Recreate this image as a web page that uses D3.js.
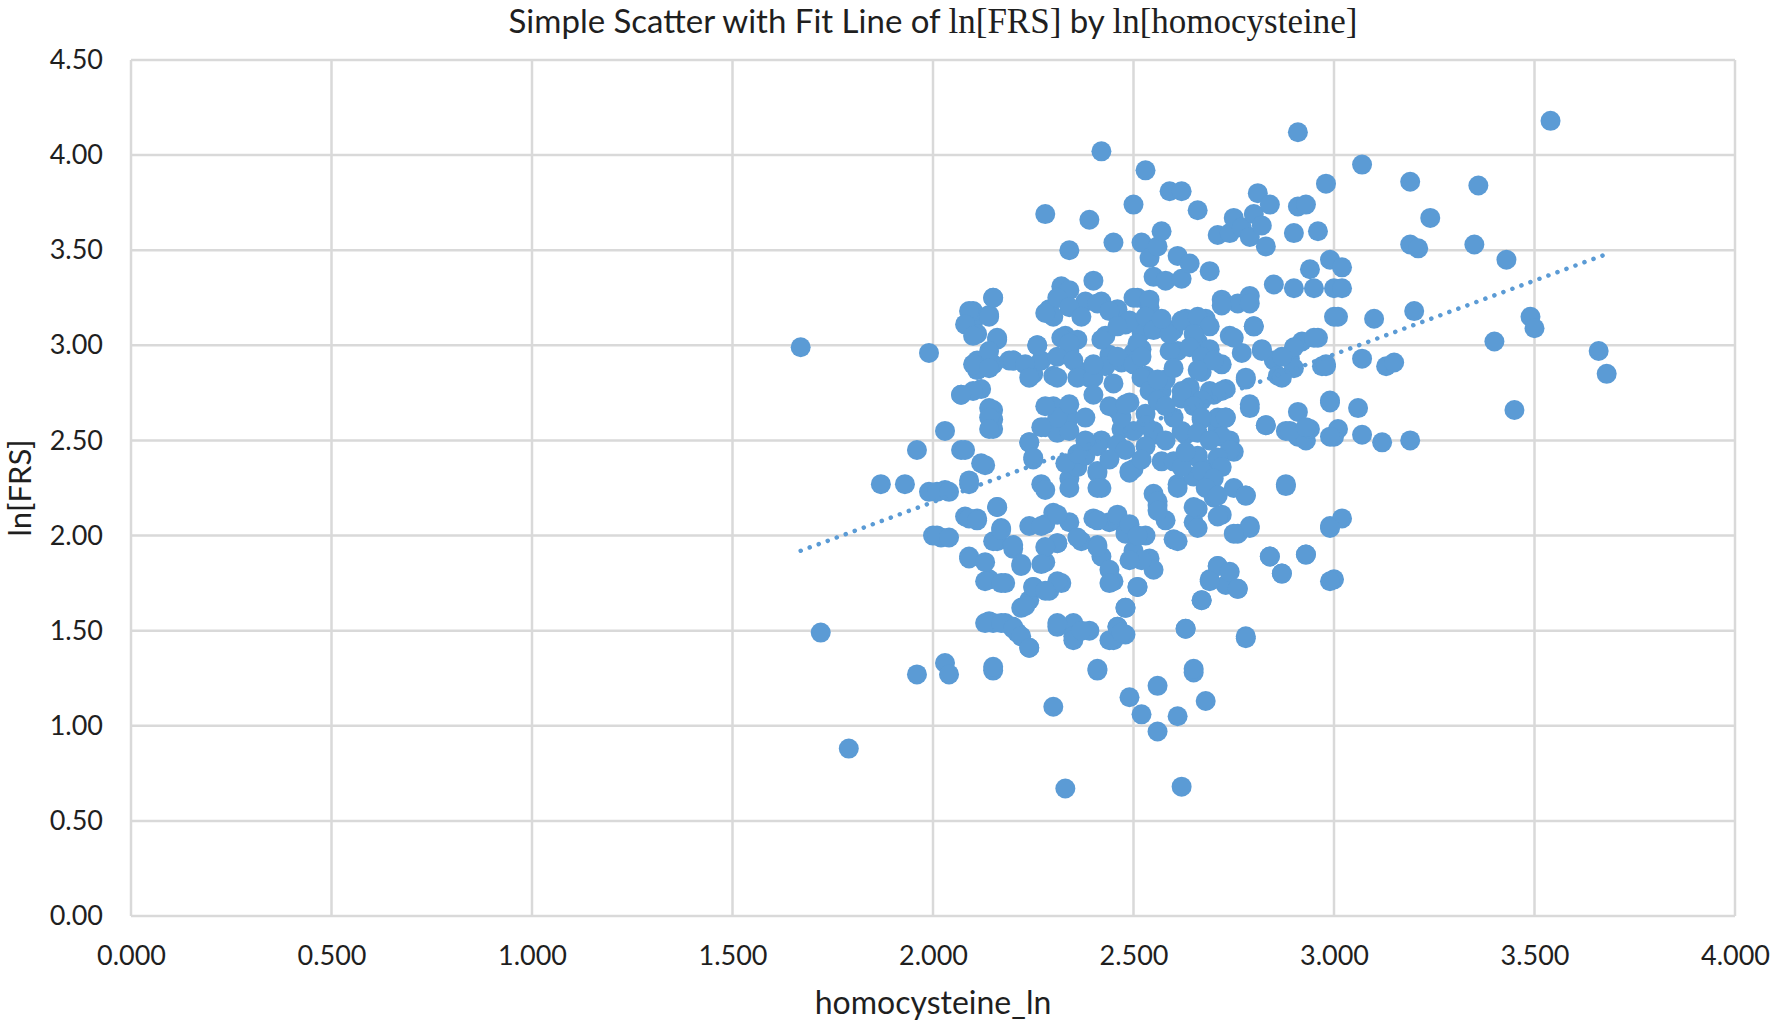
<!DOCTYPE html>
<html>
<head>
<meta charset="utf-8">
<script src="https://cdn.jsdelivr.net/npm/d3@7"></script>
<style>
  body { margin: 0; background: #fff; }
  svg text { font-family: Lato, "Open Sans", sans-serif; fill: #1f1f1f; }
</style>
</head>
<body>
<svg id="chart" width="1776" height="1024"></svg>
<script>
// tick values
const xTicks = [0, 0.5, 1, 1.5, 2, 2.5, 3, 3.5, 4];
const yTicks = [0, 0.5, 1, 1.5, 2, 2.5, 3, 3.5, 4, 4.5];

// linear fit end points [homocysteine_ln, ln FRS]
const fitLine = [[1.67, 1.92], [3.68, 3.48]];

// [homocysteine_ln, ln FRS]
const points = [
  [1.67,2.99],[1.72,1.49],[1.79,0.88],[1.87,2.27],[1.93,2.27],[1.96,2.45],[1.96,1.27],[1.99,2.96],
  [1.99,2.23],[2.00,2.00],[2.02,1.99],[2.03,1.33],[2.04,1.27],[2.03,2.55],[2.03,2.24],[2.07,2.74],
  [2.07,2.45],[2.08,2.10],[2.09,2.29],[2.09,1.89],[2.10,3.12],[2.10,3.18],[2.11,3.06],[2.11,2.92],
  [2.11,2.87],[2.11,2.09],[2.12,2.77],[2.13,2.37],[2.14,1.77],[2.14,1.55],[2.14,3.16],[2.15,3.25],
  [2.15,2.66],[2.15,2.61],[2.15,2.56],[2.16,3.03],[2.15,2.90],[2.15,1.29],[2.15,1.54],[2.16,2.15],
  [2.16,1.97],[2.17,2.04],[2.18,1.75],[2.18,1.54],[2.19,2.92],[2.20,2.92],[2.20,1.93],[2.20,1.52],
  [2.21,1.49],[2.22,1.62],[2.22,1.85],[2.24,1.41],[2.24,1.66],[2.25,2.85],[2.24,2.49],[2.24,2.05],
  [2.25,1.73],[2.25,2.40],[2.26,3.00],[2.27,2.92],[2.27,2.27],[2.28,2.57],[2.28,2.24],[2.28,2.06],
  [2.28,1.86],[2.29,1.71],[2.28,3.69],[2.30,1.10],[2.29,3.17],[2.29,3.19],[2.30,2.84],[2.30,2.68],
  [2.30,2.12],[2.31,1.52],[2.31,1.96],[2.32,3.31],[2.33,3.05],[2.32,1.75],[2.33,0.67],[2.33,2.56],
  [2.34,3.50],[2.34,3.29],[2.34,2.97],[2.34,2.62],[2.34,2.30],[2.34,2.07],[2.35,1.54],[2.35,1.47],
  [2.36,2.36],[2.36,3.03],[2.37,1.97],[2.37,2.86],[2.38,3.23],[2.38,2.42],[2.39,3.66],[2.39,2.83],
  [2.39,1.50],[2.40,3.34],[2.40,2.09],[2.41,1.29],[2.41,2.33],[2.41,1.95],[2.42,3.23],[2.42,4.02],
  [2.42,2.50],[2.42,2.25],[2.42,1.89],[2.43,3.05],[2.44,2.07],[2.44,2.95],[2.45,1.45],[2.45,3.54],
  [2.45,1.76],[2.46,1.52],[2.46,3.19],[2.46,2.66],[2.46,2.08],[2.47,2.91],[2.47,2.56],[2.48,1.48],
  [2.48,1.62],[2.48,2.01],[2.48,3.11],[2.49,1.15],[2.49,2.33],[2.49,2.70],[2.50,2.96],[2.50,1.92],
  [2.50,2.35],[2.50,3.74],[2.51,3.25],[2.51,1.73],[2.52,3.54],[2.52,1.06],[2.52,3.07],[2.52,2.98],
  [2.53,3.92],[2.53,2.64],[2.53,2.00],[2.53,2.84],[2.54,3.46],[2.54,3.20],[2.54,1.88],[2.55,3.36],
  [2.55,2.22],[2.55,1.82],[2.55,2.53],[2.56,3.52],[2.56,0.97],[2.56,2.16],[2.56,1.21],[2.57,2.76],
  [2.57,2.39],[2.57,3.60],[2.58,3.34],[2.58,2.08],[2.58,2.82],[2.59,3.81],[2.60,3.08],[2.60,2.39],
  [2.60,1.98],[2.61,3.47],[2.61,2.97],[2.61,2.27],[2.61,1.05],[2.62,3.81],[2.62,0.68],[2.62,3.35],
  [2.62,2.72],[2.63,3.14],[2.63,1.51],[2.63,2.53],[2.64,2.77],[2.64,3.43],[2.65,1.28],[2.65,2.31],
  [2.65,2.07],[2.66,3.71],[2.66,3.02],[2.66,2.42],[2.66,2.14],[2.67,1.66],[2.67,2.86],[2.67,2.61],
  [2.68,3.14],[2.68,1.13],[2.68,2.35],[2.69,3.39],[2.69,1.77],[2.69,2.98],[2.70,2.74],[2.70,2.20],
  [2.71,3.58],[2.71,2.56],[2.71,1.84],[2.72,2.11],[2.72,3.24],[2.72,2.90],[2.73,2.77],[2.73,1.74],
  [2.73,2.62],[2.74,3.59],[2.74,3.05],[2.74,2.50],[2.75,2.44],[2.75,3.67],[2.75,2.25],[2.76,2.01],
  [2.76,3.22],[2.76,1.72],[2.77,3.62],[2.77,2.96],[2.78,2.21],[2.78,1.47],[2.78,2.82],[2.79,3.26],
  [2.79,2.05],[2.79,2.67],[2.79,3.57],[2.80,3.69],[2.80,3.10],[2.81,3.80],[2.82,3.63],[2.82,2.98],
  [2.83,3.52],[2.83,2.58],[2.84,3.74],[2.84,1.89],[2.85,3.32],[2.85,2.92],[2.86,2.84],[2.87,1.80],
  [2.88,2.27],[2.88,2.55],[2.89,2.93],[2.90,2.88],[2.90,3.30],[2.90,3.59],[2.91,4.12],[2.91,2.65],
  [2.91,2.52],[2.91,3.73],[2.92,3.02],[2.93,3.74],[2.93,2.50],[2.93,1.90],[2.94,3.40],[2.94,2.56],
  [2.95,3.30],[2.96,3.60],[2.96,3.04],[2.97,2.89],[2.98,3.85],[2.98,2.89],[2.99,3.45],[2.99,2.71],
  [2.99,2.05],[3.00,3.30],[3.00,1.77],[3.00,2.52],[3.01,3.15],[3.01,2.56],[3.02,3.41],[3.02,2.09],
  [3.02,3.30],[3.06,2.67],[3.07,3.95],[3.07,2.93],[3.07,2.53],[3.10,3.14],[3.12,2.49],[3.13,2.89],
  [3.15,2.91],[3.19,3.86],[3.19,3.53],[3.20,3.18],[3.19,2.50],[3.21,3.51],[3.24,3.67],[3.35,3.53],
  [3.36,3.84],[3.40,3.02],[3.43,3.45],[3.45,2.66],[3.49,3.15],[3.50,3.09],[3.54,4.18],[3.66,2.97],
  [3.68,2.85],
  // dense core
  [2.31,3.25],[2.34,3.20],[2.30,3.15],[2.37,3.15],[2.41,3.22],[2.44,3.18],[2.50,3.25],[2.54,3.24],
  [2.49,3.13],[2.53,3.15],[2.46,3.10],[2.42,3.03],[2.32,3.04],[2.34,3.01],[2.31,2.94],[2.35,2.92],
  [2.31,2.83],[2.36,2.83],[2.40,2.83],[2.43,2.89],[2.46,2.94],[2.51,3.01],[2.55,3.08],[2.50,2.90],
  [2.52,2.83],[2.54,2.76],[2.56,2.71],[2.56,2.82],[2.59,2.97],[2.59,3.06],[2.62,3.13],[2.66,3.15],
  [2.69,3.10],[2.65,3.06],[2.64,2.99],[2.67,2.94],[2.70,2.92],[2.66,2.87],[2.64,2.78],[2.62,2.76],
  [2.69,2.76],[2.72,2.76],[2.67,2.71],[2.65,2.68],[2.71,2.62],[2.73,2.62],[2.67,2.62],[2.62,2.55],
  [2.66,2.54],[2.72,2.52],[2.74,2.45],[2.71,2.41],[2.66,2.41],[2.62,2.36],[2.67,2.34],[2.72,2.36],
  [2.50,2.55],[2.55,2.55],[2.47,2.62],[2.44,2.68],[2.48,2.69],[2.46,2.48],[2.48,2.45],[2.53,2.47],
  [2.49,2.34],[2.52,2.40],[2.41,2.47],[2.41,2.34],[2.33,2.38],[2.36,2.43],[2.31,2.54],[2.34,2.55],
  [2.31,2.62],[2.34,2.69],[2.40,2.90],[2.52,2.94],
  [2.58,2.50],[2.60,2.62],[2.58,2.68],[2.69,2.50],[2.70,2.30],[2.63,2.44],[2.57,3.14],[2.60,2.88],
  [2.44,2.40],[2.38,2.62],[2.40,2.74],[2.45,2.80],[2.38,2.50],[2.53,2.58],
  [2.79,2.69],[2.78,2.83],[2.83,2.58],[2.89,2.55],[2.93,2.57],[2.99,2.70],[2.99,2.52],[2.98,2.90],
  [2.95,3.04],[2.90,2.99],[2.87,2.94],[2.87,2.83],[2.80,3.10],[2.82,2.97],[2.75,3.04],[2.72,3.21],
  [2.79,3.22],[3.00,3.15],
  // lower middle
  [2.56,2.18],[2.56,2.13],[2.61,2.25],[2.65,2.15],[2.68,2.25],[2.71,2.21],[2.71,2.10],[2.78,2.21],
  [2.88,2.26],[2.79,2.04],[2.75,2.01],[2.66,2.04],[2.61,1.97],[2.84,1.89],[2.93,1.90],[2.87,1.80],
  [2.71,1.84],[2.74,1.81],[2.69,1.76],[2.76,1.72],[2.67,1.66],[2.99,2.04],[2.99,1.76],[2.63,1.51],
  [2.78,1.46],[2.65,1.30],[2.41,1.30],[2.31,2.11],[2.41,2.08],[2.46,2.11],[2.49,2.06],[2.51,2.00],
  [2.52,1.87],[2.49,1.87],[2.44,1.82],[2.44,1.75],[2.51,1.73],[2.48,1.62],[2.31,1.76],[2.41,1.94],
  [2.36,1.99],[2.31,1.96],[2.31,1.54],[2.35,1.45],[2.37,1.50],[2.44,1.45],[2.46,1.52],[2.47,1.49],
  [2.41,2.25],[2.34,2.25],
  // left flank
  [2.15,3.25],[2.09,3.18],[2.08,3.11],[2.10,3.05],[2.14,3.15],[2.16,3.04],[2.14,2.97],[2.10,2.90],
  [2.14,2.88],[2.20,2.92],[2.23,2.90],[2.26,3.00],[2.24,2.83],[2.28,3.17],[2.10,2.76],[2.07,2.74],
  [2.14,2.67],[2.14,2.62],[2.14,2.56],[2.08,2.45],[2.12,2.38],[2.28,2.68],[2.27,2.57],[2.24,2.49],
  [2.25,2.41],
  [2.01,2.23],[2.04,2.23],[2.09,2.27],[2.16,2.15],[2.09,2.09],[2.11,2.08],[2.01,2.00],[2.04,1.99],
  [2.15,1.97],[2.17,2.03],[2.20,1.95],[2.27,2.05],[2.28,1.94],[2.09,1.88],[2.13,1.86],[2.22,1.84],
  [2.27,1.85],[2.13,1.76],[2.17,1.75],[2.25,1.73],[2.28,1.71],[2.23,1.63],[2.13,1.54],[2.17,1.54],
  [2.20,1.51],[2.22,1.47],[2.24,1.41],[2.15,1.31]
];

const svg = d3.select('#chart');
const width = 1776, height = 1024;
const margin = { left: 131, right: 41, top: 60, bottom: 108 };

const x = d3.scaleLinear().domain([0, 4]).range([margin.left, width - margin.right]);
const y = d3.scaleLinear().domain([0, 4.5]).range([height - margin.bottom, margin.top]);

// grid lines
svg.append('g')
  .selectAll('line')
  .data(xTicks)
  .join('line')
  .attr('x1', d => x(d)).attr('x2', d => x(d))
  .attr('y1', y(4.5)).attr('y2', y(0))
  .attr('stroke', '#d9d9d9').attr('stroke-width', 2.5);

svg.append('g')
  .selectAll('line')
  .data(yTicks)
  .join('line')
  .attr('x1', x(0)).attr('x2', x(4))
  .attr('y1', d => y(d)).attr('y2', d => y(d))
  .attr('stroke', '#d9d9d9').attr('stroke-width', 2.5);

// axes, labels only
const xAxis = svg.append('g')
  .attr('transform', `translate(0,${y(0)})`)
  .call(d3.axisBottom(x).tickValues(xTicks).tickFormat(d3.format('.3f')).tickSize(0).tickPadding(30));
const yAxis = svg.append('g')
  .attr('transform', `translate(${x(0)},0)`)
  .call(d3.axisLeft(y).tickValues(yTicks).tickFormat(d3.format('.2f')).tickSize(0).tickPadding(28));
[xAxis, yAxis].forEach(g => {
  g.select('.domain').remove();
  g.selectAll('text').attr('font-family', 'Lato, "Open Sans", sans-serif')
    .attr('font-size', 27).attr('fill', '#1f1f1f');
});

// points
svg.append('g')
  .selectAll('circle')
  .data(points)
  .join('circle')
  .attr('cx', d => x(d[0]))
  .attr('cy', d => y(d[1]))
  .attr('r', 10)
  .attr('fill', '#5b9bd5');

// dotted fit line
svg.append('line')
  .attr('x1', x(fitLine[0][0])).attr('y1', y(fitLine[0][1]))
  .attr('x2', x(fitLine[1][0])).attr('y2', y(fitLine[1][1]))
  .attr('stroke', '#5b9bd5').attr('stroke-width', 4.5)
  .attr('stroke-linecap', 'round').attr('stroke-dasharray', '0.1 9.5');

// title with serif variable names
const title = svg.append('text')
  .attr('x', (x(0) + x(4)) / 2).attr('y', 33)
  .attr('text-anchor', 'middle')
  .attr('font-size', 33);
title.append('tspan').text('Simple Scatter with Fit Line of ');
title.append('tspan').attr('font-family', '"Liberation Serif", serif').attr('font-size', 35).text('ln[FRS]');
title.append('tspan').text(' by ');
title.append('tspan').attr('font-family', '"Liberation Serif", serif').attr('font-size', 35).text('ln[homocysteine]');

svg.append('text')
  .attr('x', (x(0) + x(4)) / 2).attr('y', 1014)
  .attr('text-anchor', 'middle')
  .attr('font-size', 32)
  .text('homocysteine_ln');

svg.append('text')
  .attr('transform', `translate(31,${(y(0) + y(4.5)) / 2}) rotate(-90)`)
  .attr('text-anchor', 'middle')
  .attr('font-size', 31)
  .text('ln[FRS]');
</script>
</body>
</html>
